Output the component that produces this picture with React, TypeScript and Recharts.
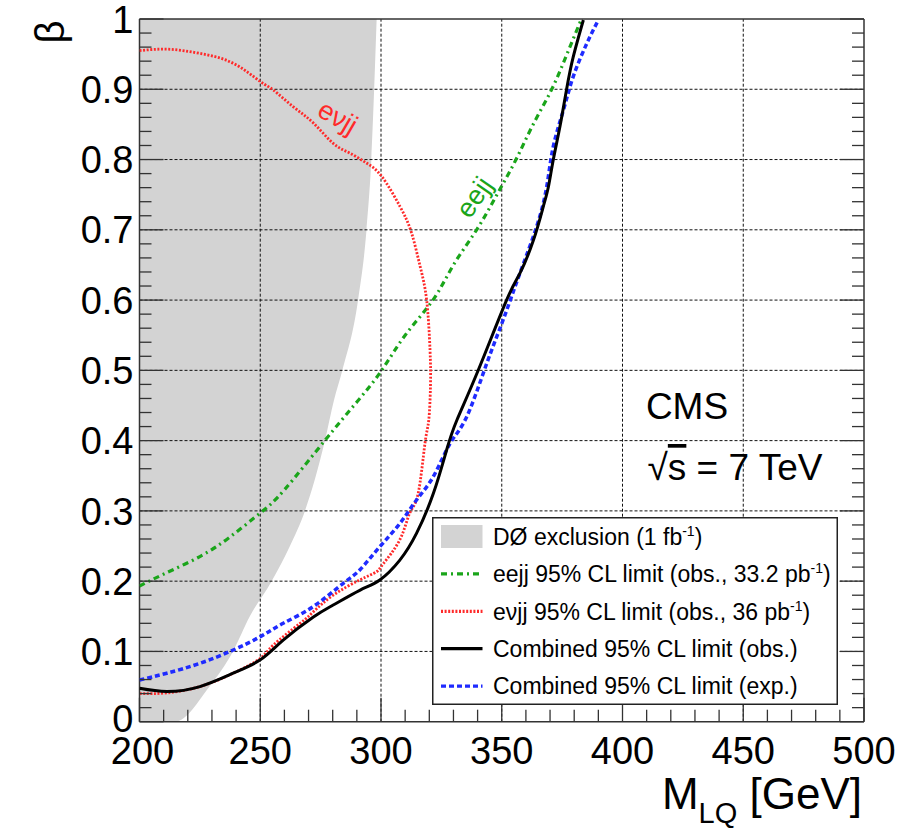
import React from "react";
import { ComposedChart, Area, Scatter, XAxis, YAxis, ReferenceLine, Legend } from "recharts";

// D0 exclusion boundary (grey region lies left of it)
const D0_MASS = [200, 214.7, 229, 238.7, 245.7, 254.7, 262.3, 268.5, 276.8, 280.5, 284, 290.5, 294, 296, 298.2];
const D0_BETA = [0, 0, 0.05, 0.1, 0.15, 0.2, 0.25, 0.3, 0.4, 0.457, 0.5, 0.6, 0.7, 0.8, 1.0];

const EEJJ_MASS = [200, 210, 225, 237.5, 250, 260, 276.7, 290, 300.3, 310, 321.5, 330, 339.6, 348, 355.9, 363, 370.7, 377, 383];
const EEJJ_BETA = [0.193, 0.21, 0.235, 0.263, 0.297, 0.33, 0.4, 0.455, 0.5, 0.55, 0.6, 0.65, 0.7, 0.75, 0.8, 0.85, 0.9, 0.95, 1.0];

const EVJJ_MASS = [
  200, 212, 225.1, 238.8, 250, 255.4, 263.7, 272, 280.2, 287.2, 294, 300.3, 307.9, 312.7, 316.2, 318.9, 320.3,
  320.5, 319.8, 318.2, 315.4, 311.9, 307.8, 301, 298, 291.2, 280.2, 272, 266.5, 255.4, 250, 238.8, 225, 211.3, 200.2,
];
const EVJJ_BETA = [
  0.955, 0.957, 0.951, 0.937, 0.911, 0.899, 0.875, 0.852, 0.823, 0.809, 0.795, 0.776, 0.733, 0.695, 0.648, 0.6, 0.529,
  0.48, 0.43, 0.396, 0.325, 0.297, 0.259, 0.225, 0.213, 0.2017, 0.18, 0.1565, 0.14, 0.109, 0.09, 0.069, 0.05, 0.041, 0.04,
];

const OBS_MASS = [200, 211.3, 225, 238.8, 250, 259.5, 272, 280.2, 291.2, 299.5, 307.8, 314.7, 321.7, 327.2, 331.4, 340.3, 352, 357.5, 363.1, 367.2, 369.3, 371.3, 374.1, 376.8, 379.6, 383.8];
const OBS_BETA = [0.0475, 0.043, 0.05, 0.069, 0.088, 0.116, 0.149, 0.166, 0.187, 0.2017, 0.23, 0.268, 0.325, 0.387, 0.429, 0.5005, 0.6, 0.638, 0.685, 0.733, 0.761, 0.799, 0.847, 0.899, 0.946, 0.9986];

const EXP_MASS = [200, 211.3, 225, 238.8, 250, 259.5, 272, 284.4, 291.2, 299.5, 307.8, 314.7, 321.7, 328.6, 335.5, 343.8, 350.6, 357.5, 364.4, 368.6, 371.3, 375.5, 379.6, 385.2, 390];
const EXP_BETA = [0.0593, 0.069, 0.083, 0.102, 0.121, 0.14, 0.164, 0.197, 0.216, 0.249, 0.282, 0.3155, 0.349, 0.396, 0.434, 0.51, 0.572, 0.638, 0.704, 0.761, 0.818, 0.87, 0.918, 0.965, 0.9986];

const X_MAJOR = [200, 250, 300, 350, 400, 450, 500];
const X_LABELS = ["200", "250", "300", "350", "400", "450", "500"];
const Y_MAJOR = [0, 0.1, 0.2, 0.3, 0.4, 0.5, 0.6, 0.7, 0.8, 0.9, 1];
const Y_LABELS = ["0", "0.1", "0.2", "0.3", "0.4", "0.5", "0.6", "0.7", "0.8", "0.9", "1"];
const X_GRID = [250, 300, 350, 400, 450];
const Y_GRID = [0.1, 0.2, 0.3, 0.4, 0.5, 0.6, 0.7, 0.8, 0.9];

const LEGEND_ITEMS = [
  { kind: "box", text: "DØ exclusion (1 fb", sup: "-1", tail: ")", color: "#d3d3d3", dash: "" },
  { kind: "line", text: "eejj 95% CL limit (obs., 33.2 pb", sup: "-1", tail: ")", color: "#1aa51a", dash: "6 4 2 4" },
  { kind: "line", text: "eνjj 95% CL limit (obs., 36 pb", sup: "-1", tail: ")", color: "#ff2a2a", dash: "2 1.6" },
  { kind: "line", text: "Combined 95% CL limit (obs.)", sup: "", tail: "", color: "#000000", dash: "" },
  { kind: "line", text: "Combined 95% CL limit (exp.)", sup: "", tail: "", color: "#1f2bff", dash: "5 3" },
];

const FONT = "'Liberation Sans', Arial, Helvetica, sans-serif";
const FRAME = "#333";

// minor ticks every 1/5 of a major step
const X_TICKS = X_MAJOR.flatMap((m, i) => (i === X_MAJOR.length - 1 ? [m] : [0, 1, 2, 3, 4].map((k) => m + k * 10)));
const Y_TICKS = Array.from({ length: 51 }, (_, i) => +(i * 0.02).toFixed(2));

const zip = (ms: number[], bs: number[]) => ms.map((m, i) => ({ m, b: bs[i] }));
const d0Data = D0_MASS.map((m, i) => ({ m, band: [D0_BETA[i], 1] }));

const majorIndex = (list: number[], v: number) => list.findIndex((t) => Math.abs(t - v) < 1e-6);

function LeftTick(props: any) {
  const { x, y, payload } = props;
  const idx = majorIndex(Y_MAJOR, payload.value);
  return (
    <g>
      <line x1={x} x2={x + (idx >= 0 ? 24 : 12)} y1={y} y2={y} stroke={FRAME} strokeWidth={1.3} />
      {idx >= 0 && (
        <text x={x - 6} y={idx === 0 ? y - 3 : y} dy="0.36em" textAnchor="end" fontSize={38} fill="#000" fontFamily={FONT}>
          {Y_LABELS[idx]}
        </text>
      )}
    </g>
  );
}

function RightTick(props: any) {
  const { x, y, payload } = props;
  const idx = majorIndex(Y_MAJOR, payload.value);
  return <line x1={x} x2={x - (idx >= 0 ? 24 : 12)} y1={y} y2={y} stroke={FRAME} strokeWidth={1.3} />;
}

function BottomTick(props: any) {
  const { x, y, payload } = props;
  const idx = majorIndex(X_MAJOR, payload.value);
  return (
    <g>
      <line x1={x} x2={x} y1={y} y2={y - (idx >= 0 ? 24 : 12)} stroke={FRAME} strokeWidth={1.3} />
      {idx >= 0 && (
        <text x={idx === 0 ? x + 3 : x} y={y + 42} textAnchor="middle" fontSize={38} fill="#000" fontFamily={FONT}>
          {X_LABELS[idx]}
        </text>
      )}
    </g>
  );
}

function TopTick(props: any) {
  const { x, y, payload } = props;
  const idx = majorIndex(X_MAJOR, payload.value);
  return <line x1={x} x2={x} y1={y} y2={y + (idx >= 0 ? 24 : 12)} stroke={FRAME} strokeWidth={1.3} />;
}

function LegendBox() {
  return (
    <svg width={406} height={188} style={{ display: "block", overflow: "visible" }}>
      <rect x={0.75} y={0.75} width={404.5} height={186.5} fill="#fff" stroke="#222" strokeWidth={1.5} />
      {LEGEND_ITEMS.map((it, i) => {
        const cy = 19.5 + i * 37.4;
        return (
          <g key={i}>
            {it.kind === "box" ? (
              <rect x={9} y={cy - 11.5} width={41.5} height={23} fill={it.color} />
            ) : (
              <line x1={9} x2={50.5} y1={cy} y2={cy} stroke={it.color} strokeWidth={3.2} strokeDasharray={it.dash || undefined} />
            )}
            <text x={61} y={cy} dy="0.36em" fontSize={23} fill="#000" fontFamily={FONT}>
              {it.text}
              {it.sup && (
                <tspan dy={-9} fontSize={14}>
                  {it.sup}
                </tspan>
              )}
              {it.tail && <tspan dy={9}>{it.tail}</tspan>}
            </text>
          </g>
        );
      })}
    </svg>
  );
}

// text that sits on top of the plot (drawn in an overlay so it is above the grey band)
function Annotations() {
  return (
    <svg
      width={915}
      height={830}
      style={{ position: "absolute", left: 0, top: 0, pointerEvents: "none" }}
      fontFamily={FONT}
    >
      <text x={50} y={32} dy="0.35em" fontSize={40} textAnchor="middle" transform="rotate(-90, 50, 32)" fill="#000">
        β
      </text>
      <text x={862} y={809} fontSize={44} textAnchor="end" fill="#000">
        M
        <tspan fontSize={29} dy={14}>
          LQ
        </tspan>
        <tspan dy={-14}> [GeV]</tspan>
      </text>
      <text x={687} y={419} fontSize={37} textAnchor="middle" fill="#000">
        CMS
      </text>
      <text x={735} y={480} fontSize={37} textAnchor="middle" fill="#000">
        √<tspan textDecoration="overline">s</tspan> = 7 TeV
      </text>
      <text x={338} y={117} dy="0.35em" fontSize={27} textAnchor="middle" fill="#ff2a2a" transform="rotate(30, 338, 117)">
        eνjj
      </text>
      <text x={474} y={197} dy="0.35em" fontSize={27} textAnchor="middle" fill="#1aa51a" transform="rotate(-55, 474, 197)">
        eejj
      </text>
    </svg>
  );
}

const noDot = () => <g />;

export default function App() {
  return (
    <div style={{ position: "absolute", left: 0, top: 0, width: 915, height: 830, background: "#fff", fontFamily: FONT }}>
      <ComposedChart width={915} height={830} data={d0Data} margin={{ top: 18, right: 50, bottom: 107.3, left: 138.5 }}>
        <XAxis
          dataKey="m"
          type="number"
          domain={[200, 500]}
          allowDataOverflow
          ticks={X_TICKS}
          interval={0}
          height={1}
          tickSize={0}
          tickMargin={0}
          tickLine={false}
          tick={<BottomTick />}
          axisLine={{ stroke: FRAME, strokeWidth: 1.5 }}
        />
        <XAxis
          xAxisId="top"
          orientation="top"
          type="number"
          domain={[200, 500]}
          allowDataOverflow
          ticks={X_TICKS}
          interval={0}
          height={1}
          tickSize={0}
          tickMargin={0}
          tickLine={false}
          tick={<TopTick />}
          axisLine={{ stroke: FRAME, strokeWidth: 1.5 }}
        />
        <YAxis
          dataKey="b"
          type="number"
          domain={[0, 1]}
          allowDataOverflow
          ticks={Y_TICKS}
          interval={0}
          width={1}
          tickSize={0}
          tickMargin={0}
          tickLine={false}
          tick={<LeftTick />}
          axisLine={{ stroke: FRAME, strokeWidth: 1.5 }}
        />
        <YAxis
          yAxisId="right"
          orientation="right"
          type="number"
          domain={[0, 1]}
          allowDataOverflow
          ticks={Y_TICKS}
          interval={0}
          width={1}
          tickSize={0}
          tickMargin={0}
          tickLine={false}
          tick={<RightTick />}
          axisLine={{ stroke: FRAME, strokeWidth: 1.5 }}
        />

        <Area
          dataKey="band"
          type="monotone"
          fill="#d3d3d3"
          fillOpacity={1}
          stroke="none"
          isAnimationActive={false}
          legendType="none"
        />

        {X_GRID.map((v) => (
          <ReferenceLine key={"x" + v} x={v} stroke="#111" strokeWidth={1} strokeDasharray="3 2" />
        ))}
        {Y_GRID.map((v) => (
          <ReferenceLine key={"y" + v} y={v} stroke="#111" strokeWidth={1} strokeDasharray="3 2" />
        ))}

        <Scatter
          name="eejj"
          data={zip(EEJJ_MASS, EEJJ_BETA)}
          shape={noDot}
          line={{ stroke: "#1aa51a", strokeWidth: 3.2, strokeDasharray: "6 4 2 4" }}
          lineType="joint"
          lineJointType="natural"
          isAnimationActive={false}
        />
        <Scatter
          name="evjj"
          data={zip(EVJJ_MASS, EVJJ_BETA)}
          shape={noDot}
          line={{ stroke: "#ff2a2a", strokeWidth: 2.8, strokeDasharray: "2 1.6" }}
          lineType="joint"
          lineJointType="natural"
          isAnimationActive={false}
        />
        <Scatter
          name="exp"
          data={zip(EXP_MASS, EXP_BETA)}
          shape={noDot}
          line={{ stroke: "#1f2bff", strokeWidth: 3.5, strokeDasharray: "5 3" }}
          lineType="joint"
          lineJointType="natural"
          isAnimationActive={false}
        />
        <Scatter
          name="obs"
          data={zip(OBS_MASS, OBS_BETA)}
          shape={noDot}
          line={{ stroke: "#000", strokeWidth: 3 }}
          lineType="joint"
          lineJointType="natural"
          isAnimationActive={false}
        />

        <Legend
          layout="vertical"
          align="center"
          verticalAlign="middle"
          content={() => <LegendBox />}
          wrapperStyle={{ left: 431.5, top: 517, width: 406, height: 188 }}
        />
      </ComposedChart>
      <Annotations />
    </div>
  );
}
